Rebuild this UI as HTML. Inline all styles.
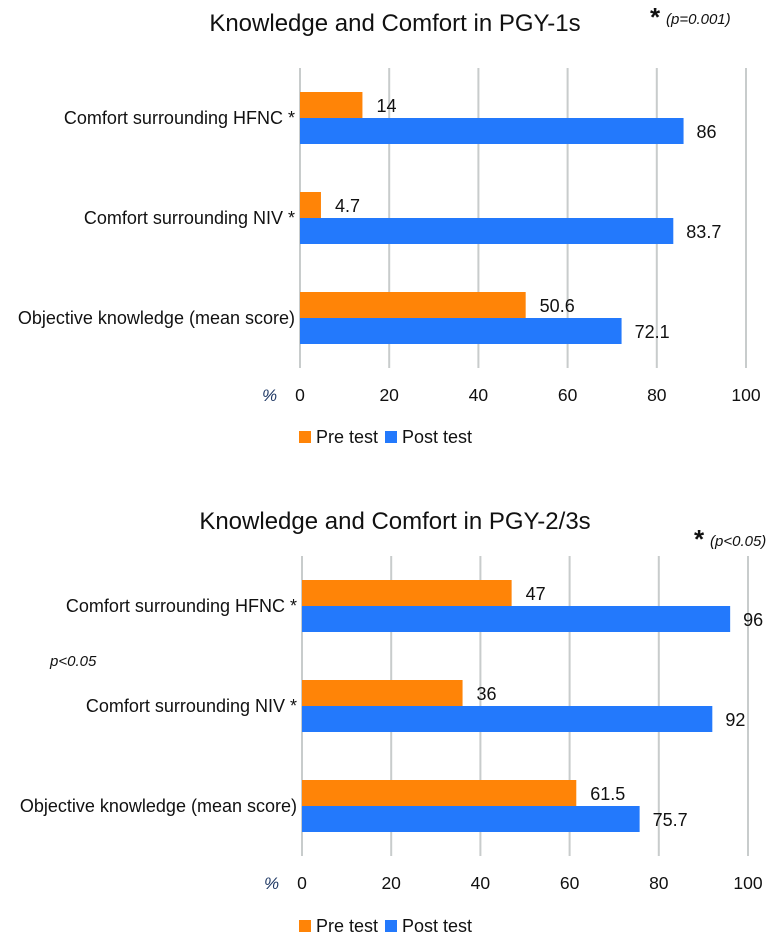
<!DOCTYPE html>
<html><head><meta charset="utf-8"><style>
body{margin:0;background:#fff;font-family:"Liberation Sans",sans-serif}
svg text{font-family:"Liberation Sans",sans-serif;fill:#111}
</style></head><body>
<svg id="svg" width="782" height="939"></svg>
<script>
const categories=["Comfort surrounding HFNC *","Comfort surrounding NIV *","Objective knowledge (mean score)"];
const pre1=[14,4.7,50.6];
const post1=[86,83.7,72.1];
const pre2=[47,36,61.5];
const post2=[96,92,75.7];
const ticks=[0,20,40,60,80,100];
const NS="http://www.w3.org/2000/svg";
const svg=document.getElementById('svg');
function el(t,a,txt,parent){const e=document.createElementNS(NS,t);for(const k in a)e.setAttribute(k,a[k]);if(txt!=null)e.textContent=txt;(parent||svg).appendChild(e);return e;}
function chart(cfg){
  const g=el('g',{});
  
  
  const x=v=>cfg.x0+v*(cfg.x1-cfg.x0)/100;
  const band=(cfg.bottom-cfg.top)/categories.length;
  const t=el('text',{x:cfg.titleX,y:cfg.titleY,'font-size':24,'text-anchor':'middle'},cfg.title,g);
  
  
  ticks.forEach(v=>{
    const l=el('line',{x1:x(v),x2:x(v),y1:cfg.top,y2:cfg.bottom,stroke:'#c8cccc','stroke-width':2},null,g);
    
    
    const tl=el('text',{x:x(v),y:cfg.tickY,'font-size':17.5,'text-anchor':'middle'},String(v),g);
    
    
  });
  const pc=el('text',{x:cfg.x0-38,y:cfg.tickY,'font-size':17,'font-style':'italic',style:'fill:#1f3864'},'%',g);
  
  
  categories.forEach((c,i)=>{
    const cy=cfg.top+band*(i+0.5);
    const cl=el('text',{x:cfg.x0-5,y:cy+6,'font-size':18,'text-anchor':'end'},c,g);
    
    
    const bh=26;
    const b1=el('rect',{x:x(0),y:cy-bh,width:x(cfg.pre[i])-x(0),height:bh,fill:'#ff8407'},null,g);
    
    
    const v1=el('text',{x:x(cfg.pre[i])+14,y:cy-6,'font-size':18},String(cfg.pre[i]),g);
    
    
    const b2=el('rect',{x:x(0),y:cy,width:x(cfg.post[i])-x(0),height:bh,fill:'#2379fc'},null,g);
    
    
    const v2=el('text',{x:x(cfg.post[i])+13,y:cy+20,'font-size':18},String(cfg.post[i]),g);
    
    
  });
  const ly=cfg.legendY;
  const lg=el('g',{},null,g);
  
  
  el('rect',{x:299,y:ly-12,width:12,height:12,fill:'#ff8407'},null,lg);
  el('text',{x:316,y:ly,'font-size':18},'Pre test',lg);
  el('rect',{x:385,y:ly-12,width:12,height:12,fill:'#2379fc'},null,lg);
  el('text',{x:402,y:ly,'font-size':18},'Post test',lg);
  const st=el('text',{x:cfg.starX,y:cfg.starY,'font-size':26,'font-weight':'bold'},'*',g);
  
  
  el('text',{x:cfg.starX+16,y:cfg.starY-2,'font-size':15,'font-style':'italic'},cfg.pnote,g);
}
chart({name:'chart-pgy1',title:'Knowledge and Comfort in PGY-1s',titleX:395,titleY:31,x0:300,x1:746,top:68,bottom:368,tickY:401,legendY:443,pre:pre1,post:post1,starX:650,starY:26,pnote:'(p=0.001)'});
chart({name:'chart-pgy23',title:'Knowledge and Comfort in PGY-2/3s',titleX:395,titleY:529,x0:302,x1:748,top:556,bottom:856,tickY:889,legendY:932,pre:pre2,post:post2,starX:694,starY:548,pnote:'(p<0.05)'});
const pn=el('text',{x:50,y:666,'font-size':15,'font-style':'italic'},'p<0.05');


</script>
</body></html>
